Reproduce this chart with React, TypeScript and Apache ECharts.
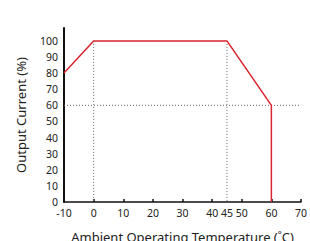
import React, { useEffect, useRef } from "react";
import * as echarts from "echarts";

const curveTemps = [-10, 0, 45, 60, 60];
const curveCurrent = [80, 100, 100, 60, 0];
const guideV0 = [[0, 100], [0, 0]];
const guideV45 = [[45, 100], [45, 0]];
const guideH60 = [[-10, 60], [70, 60]];
const xLabelValues = [-10, 0, 10, 20, 30, 40, 45, 50, 60, 70];
const xTickValues = [0, 10, 20, 30, 40, 50, 60, 70];
const yLabelValues = [0, 10, 20, 30, 40, 50, 60, 70, 80, 90, 100];

export default function App() {
  const ref = useRef<HTMLDivElement>(null);
  useEffect(() => {
    const chart = echarts.init(ref.current!, undefined, { renderer: "svg" });
    const font = "'Noto Sans', sans-serif";
    const dotted = { color: "#666", width: 1, type: [1, 2] as any };
    chart.setOption({
      animation: false,
      grid: { left: 64, right: 9, top: 28, bottom: 39, containLabel: false, outerBoundsMode: "none" },
      xAxis: {
        type: "value",
        min: -10,
        max: 70,
        interval: 5,
        name: "Ambient Operating Temperature (˚C)",
        nameLocation: "middle",
        nameGap: 28,
        nameTextStyle: { fontFamily: font, fontSize: 13, color: "#222" },
        axisLine: { show: true, onZero: false, lineStyle: { color: "#111", width: 1.5 } },
        axisTick: { show: true, inside: true, length: 3, customValues: xTickValues, lineStyle: { color: "#111", width: 1.5 } },
        axisLabel: { customValues: xLabelValues, fontFamily: font, fontSize: 10.5, color: "#222", margin: 5 },
        splitLine: { show: false },
      },
      yAxis: {
        type: "value",
        min: 0,
        max: 108,
        name: "Output Current (%)",
        nameLocation: "middle",
        nameGap: 37,
        nameTextStyle: { fontFamily: font, fontSize: 13, color: "#222" },
        axisLine: { show: true, onZero: false, lineStyle: { color: "#111", width: 2 } },
        axisTick: { show: false },
        axisLabel: { customValues: yLabelValues, fontFamily: font, fontSize: 10.5, color: "#222", margin: 6 },
        splitLine: { show: false },
      },
      series: [
        { type: "line", data: guideV0, symbol: "none", lineStyle: dotted, silent: true },
        { type: "line", data: guideV45, symbol: "none", lineStyle: dotted, silent: true },
        { type: "line", data: guideH60, symbol: "none", lineStyle: dotted, silent: true },
        {
          type: "line",
          data: curveTemps.map((t, i) => [t, curveCurrent[i]]),
          symbol: "none",
          lineStyle: { color: "#d9232e", width: 1.5 },
          z: 5,
        },
      ],
    });
    return () => chart.dispose();
  }, []);
  return <div ref={ref} style={{ width: 310, height: 241, position: "absolute", left: 0, top: 0 }} />;
}
